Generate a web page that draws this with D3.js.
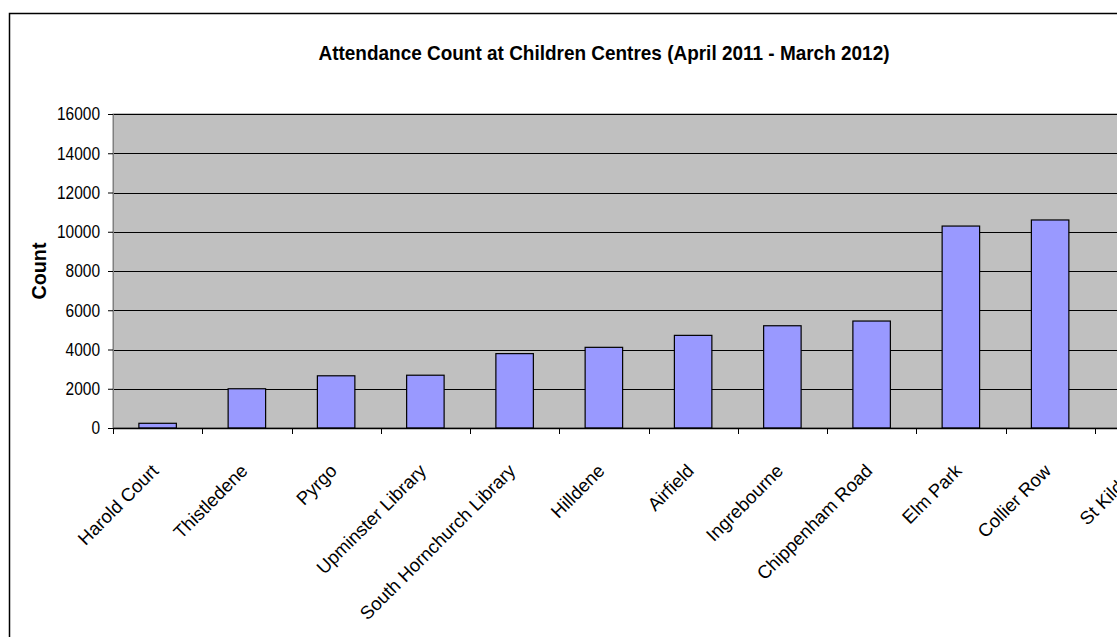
<!DOCTYPE html>
<html>
<head>
<meta charset="utf-8">
<script src="https://cdn.jsdelivr.net/npm/d3@7"></script>
<style>
  html, body { margin: 0; padding: 0; background: #ffffff; }
  svg { display: block; }
  text { font-family: "Liberation Sans", Arial, sans-serif; fill: #000; }
</style>
</head>
<body>
<svg id="chart" width="1117" height="637"></svg>
<script>
// Children centres, sorted by attendance
const categories = [
  "Harold Court", "Thistledene", "Pyrgo", "Upminster Library",
  "South Hornchurch Library", "Hilldene", "Airfield", "Ingrebourne",
  "Chippenham Road", "Elm Park", "Collier Row", "St Kilda's"
];
// Attendance counts, April 2011 - March 2012 (last centre runs off the frame)
const counts = [240, 2000, 2660, 2690, 3790, 4110, 4720, 5210, 5450, 10290, 10600, null];
const yTicks = [0, 2000, 4000, 6000, 8000, 10000, 12000, 14000, 16000];

const titleText = "Attendance Count at Children Centres (April 2011 - March 2012)";
const yTitle = "Count";

const svg = d3.select("#chart");
const W = 1117, H = 637;

const plot = { left: 113, top: 114, bottom: 428, step: 89.25 };
const plotRight = plot.left + plot.step * categories.length;

// outer chart frame (right and bottom edges lie outside the view)
svg.append("rect")
  .attr("x", 9.5).attr("y", 13.5)
  .attr("width", W + 20).attr("height", H + 20)
  .attr("fill", "#fff").attr("stroke", "#000").attr("stroke-width", 1.5);

const x = d3.scaleBand().domain(categories).range([plot.left, plotRight]).padding(0);
const y = d3.scaleLinear().domain([0, 16000]).range([plot.bottom, plot.top]);

// plot area
svg.append("rect")
  .attr("x", plot.left).attr("y", plot.top)
  .attr("width", plotRight - plot.left).attr("height", plot.bottom - plot.top)
  .attr("fill", "#c0c0c0").attr("stroke", "#808080").attr("stroke-width", 1);

// gridlines
svg.append("g").selectAll("line")
  .data(yTicks.filter(t => t > 0))
  .join("line")
  .attr("x1", plot.left).attr("x2", plotRight)
  .attr("y1", d => Math.round(y(d)) + 0.5).attr("y2", d => Math.round(y(d)) + 0.5)
  .attr("stroke", "#000").attr("stroke-width", 1);

// bars
const barW = x.bandwidth() * 0.42;
svg.append("g").selectAll("rect")
  .data(categories.map((c, i) => ({ c, v: counts[i] })).filter(d => d.v != null))
  .join("rect")
  .attr("x", d => x(d.c) + (x.bandwidth() - barW) / 2)
  .attr("y", d => y(d.v))
  .attr("width", barW)
  .attr("height", d => y(0) - y(d.v))
  .attr("fill", "#9999ff").attr("stroke", "#000").attr("stroke-width", 1.2);

// y axis
const yAxis = svg.append("g")
  .attr("transform", `translate(${plot.left},0)`)
  .call(d3.axisLeft(y).tickValues(yTicks).tickSize(5).tickPadding(8).tickFormat(d3.format("d")));
yAxis.select(".domain").attr("stroke", "#808080");
yAxis.selectAll(".tick line").attr("stroke", "#000");
yAxis.selectAll(".tick text")
  .attr("font-size", 17.5)
  .attr("font-family", "Liberation Sans, Arial, sans-serif")
  .attr("fill", "#000")
  .attr("dy", "0.34em")
  .attr("textLength", d => String(d).length * 8.6)
  .attr("lengthAdjust", "spacingAndGlyphs");

// x axis: ticks sit on the category boundaries
svg.append("line")
  .attr("x1", plot.left).attr("x2", plotRight)
  .attr("y1", plot.bottom + 0.5).attr("y2", plot.bottom + 0.5)
  .attr("stroke", "#000").attr("stroke-width", 1.5);
const bounds = categories.map(c => x(c)).concat([plotRight]);
svg.append("g").selectAll("line")
  .data(bounds)
  .join("line")
  .attr("x1", d => Math.round(d) + 0.5).attr("x2", d => Math.round(d) + 0.5)
  .attr("y1", plot.bottom).attr("y2", plot.bottom + 6)
  .attr("stroke", "#000").attr("stroke-width", 1);

// category labels, rotated 45 degrees
svg.append("g").selectAll("text")
  .data(categories)
  .join("text")
  .attr("text-anchor", "end")
  .attr("font-size", 18.5)
  .attr("transform", d => `translate(${x(d) + x.bandwidth() / 2 + 2},${plot.bottom + 44}) rotate(-45)`)
  .text(d => d);

// axis title
svg.append("text")
  .attr("transform", `translate(46,${(plot.top + plot.bottom) / 2}) rotate(-90)`)
  .attr("text-anchor", "middle")
  .attr("font-size", 19.5).attr("font-weight", "bold")
  .attr("textLength", 57).attr("lengthAdjust", "spacingAndGlyphs")
  .text(yTitle);

// chart title
svg.append("text")
  .attr("x", 604).attr("y", 60)
  .attr("text-anchor", "middle")
  .attr("font-size", 21).attr("font-weight", "bold")
  .attr("textLength", 571).attr("lengthAdjust", "spacingAndGlyphs")
  .text(titleText);
</script>
</body>
</html>
